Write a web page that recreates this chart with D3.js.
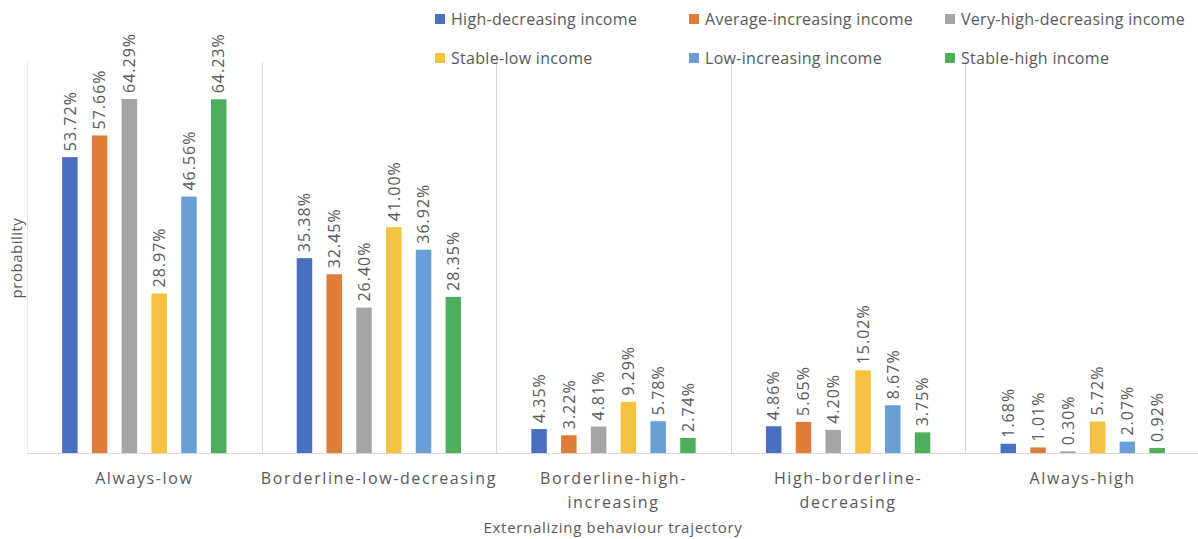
<!DOCTYPE html>
<html>
<head>
<meta charset="utf-8">
<script src="https://cdn.jsdelivr.net/npm/d3@7"></script>
<style>
  html, body { margin: 0; padding: 0; background: #fff; }
  svg { display: block; font-family: "Open Sans", "Noto Sans", sans-serif; }
</style>
</head>
<body>
<svg id="chart" width="1198" height="539"></svg>
<script>
// Externalizing behaviour trajectories by income group (probabilities, %)
const categories = [
  "Always-low",
  "Borderline-low-decreasing",
  "Borderline-high-increasing",
  "High-borderline-decreasing",
  "Always-high"
];
const categoryLines = [
  ["Always-low"],
  ["Borderline-low-decreasing"],
  ["Borderline-high-", "increasing"],
  ["High-borderline-", "decreasing"],
  ["Always-high"]
];
const seriesNames = [
  "High-decreasing income",
  "Average-increasing income",
  "Very-high-decreasing income",
  "Stable-low income",
  "Low-increasing income",
  "Stable-high income"
];
const seriesColors = ["#4A6FC1", "#E07B39", "#A5A5A5", "#F5C242", "#6A9FD5", "#4DAE5B"];

// values[series][category]
const highDecreasing     = [53.72, 35.38, 4.35, 4.86, 1.68];
const averageIncreasing  = [57.66, 32.45, 3.22, 5.65, 1.01];
const veryHighDecreasing = [64.29, 26.40, 4.81, 4.20, 0.30];
const stableLow          = [28.97, 41.00, 9.29, 15.02, 5.72];
const lowIncreasing      = [46.56, 36.92, 5.78, 8.67, 2.07];
const stableHigh         = [64.23, 28.35, 2.74, 3.75, 0.92];
const seriesValues = [highDecreasing, averageIncreasing, veryHighDecreasing, stableLow, lowIncreasing, stableHigh];

const textColor = "#595959";
const gridColor = "#D9D9D9";

const svg = d3.select("#chart");
const plot = { left: 27, right: 1200, top: 62, bottom: 453 };

const x0 = d3.scaleBand().domain(categories).range([plot.left, plot.right]).paddingInner(0).paddingOuter(0);
const x1 = d3.scaleBand().domain(seriesNames).range([0, x0.bandwidth()]).paddingInner(0.48).paddingOuter(1.18);
const y = d3.scaleLinear().domain([0, 71]).range([plot.bottom, plot.top]);

// category separators
const seps = categories.slice(1).map(c => x0(c));
svg.append("g").selectAll("line").data(seps).join("line")
  .attr("x1", d => Math.round(d) + 0.5).attr("x2", d => Math.round(d) + 0.5)
  .attr("y1", plot.top).attr("y2", plot.bottom)
  .attr("stroke", gridColor).attr("stroke-width", 1);
svg.append("line")
  .attr("x1", plot.left + 0.5).attr("x2", plot.left + 0.5)
  .attr("y1", plot.top).attr("y2", plot.bottom)
  .attr("stroke", "#EBEBEB");

// bars
const groups = svg.append("g").selectAll("g").data(categories).join("g")
  .attr("transform", c => `translate(${x0(c)},0)`);

const cells = groups.selectAll("g.cell")
  .data((c, ci) => seriesNames.map((s, si) => ({ s, si, v: seriesValues[si][ci] })))
  .join("g").attr("class", "cell");

cells.append("rect")
  .attr("x", d => x1(d.s))
  .attr("width", x1.bandwidth())
  .attr("y", d => y(d.v))
  .attr("height", d => y(0) - y(d.v))
  .attr("fill", d => seriesColors[d.si]);

cells.append("text")
  .attr("transform", d => `translate(${x1(d.s) + x1.bandwidth() / 2},${y(d.v) - 6}) rotate(-90)`)
  .attr("dy", "0.36em")
  .attr("text-anchor", "start")
  .attr("fill", textColor)
  .attr("font-size", 16)
  .attr("letter-spacing", 1)
  .text(d => d.v.toFixed(2) + "%");

// baseline
svg.append("line")
  .attr("x1", plot.left).attr("x2", plot.right)
  .attr("y1", plot.bottom + 0.5).attr("y2", plot.bottom + 0.5)
  .attr("stroke", gridColor);

// category labels
const catLabels = svg.append("g").selectAll("text").data(categories).join("text")
  .attr("x", c => x0(c) + x0.bandwidth() / 2)
  .attr("y", 484)
  .attr("text-anchor", "middle")
  .attr("fill", textColor)
  .attr("font-size", 16)
  .attr("letter-spacing", 1.6);
catLabels.selectAll("tspan").data((c, i) => categoryLines[i]).join("tspan")
  .attr("x", function () { return d3.select(this.parentNode).attr("x"); })
  .attr("dy", (d, i) => i === 0 ? 0 : 24)
  .text(d => d);

// axis titles
svg.append("text")
  .attr("x", 613).attr("y", 533)
  .attr("text-anchor", "middle")
  .attr("fill", textColor)
  .attr("font-size", 15)
  .attr("letter-spacing", 0.7)
  .text("Externalizing behaviour trajectory");

svg.append("text")
  .attr("transform", "translate(22,258) rotate(-90)")
  .attr("text-anchor", "middle")
  .attr("fill", textColor)
  .attr("font-size", 15)
  .attr("letter-spacing", 0.5)
  .text("probability");

// legend
const legendCols = [435, 689, 945];
const legendRows = [19, 58];
const legend = svg.append("g").selectAll("g").data(seriesNames).join("g")
  .attr("transform", (d, i) => `translate(${legendCols[i % 3]},${legendRows[Math.floor(i / 3)]})`);
legend.append("rect")
  .attr("x", 0).attr("y", -5).attr("width", 10).attr("height", 10)
  .attr("fill", (d, i) => seriesColors[i]);
legend.append("text")
  .attr("x", 16).attr("dy", "0.36em")
  .attr("fill", textColor)
  .attr("font-size", 16)
  .attr("letter-spacing", 0.3)
  .text(d => d);
</script>
</body>
</html>
